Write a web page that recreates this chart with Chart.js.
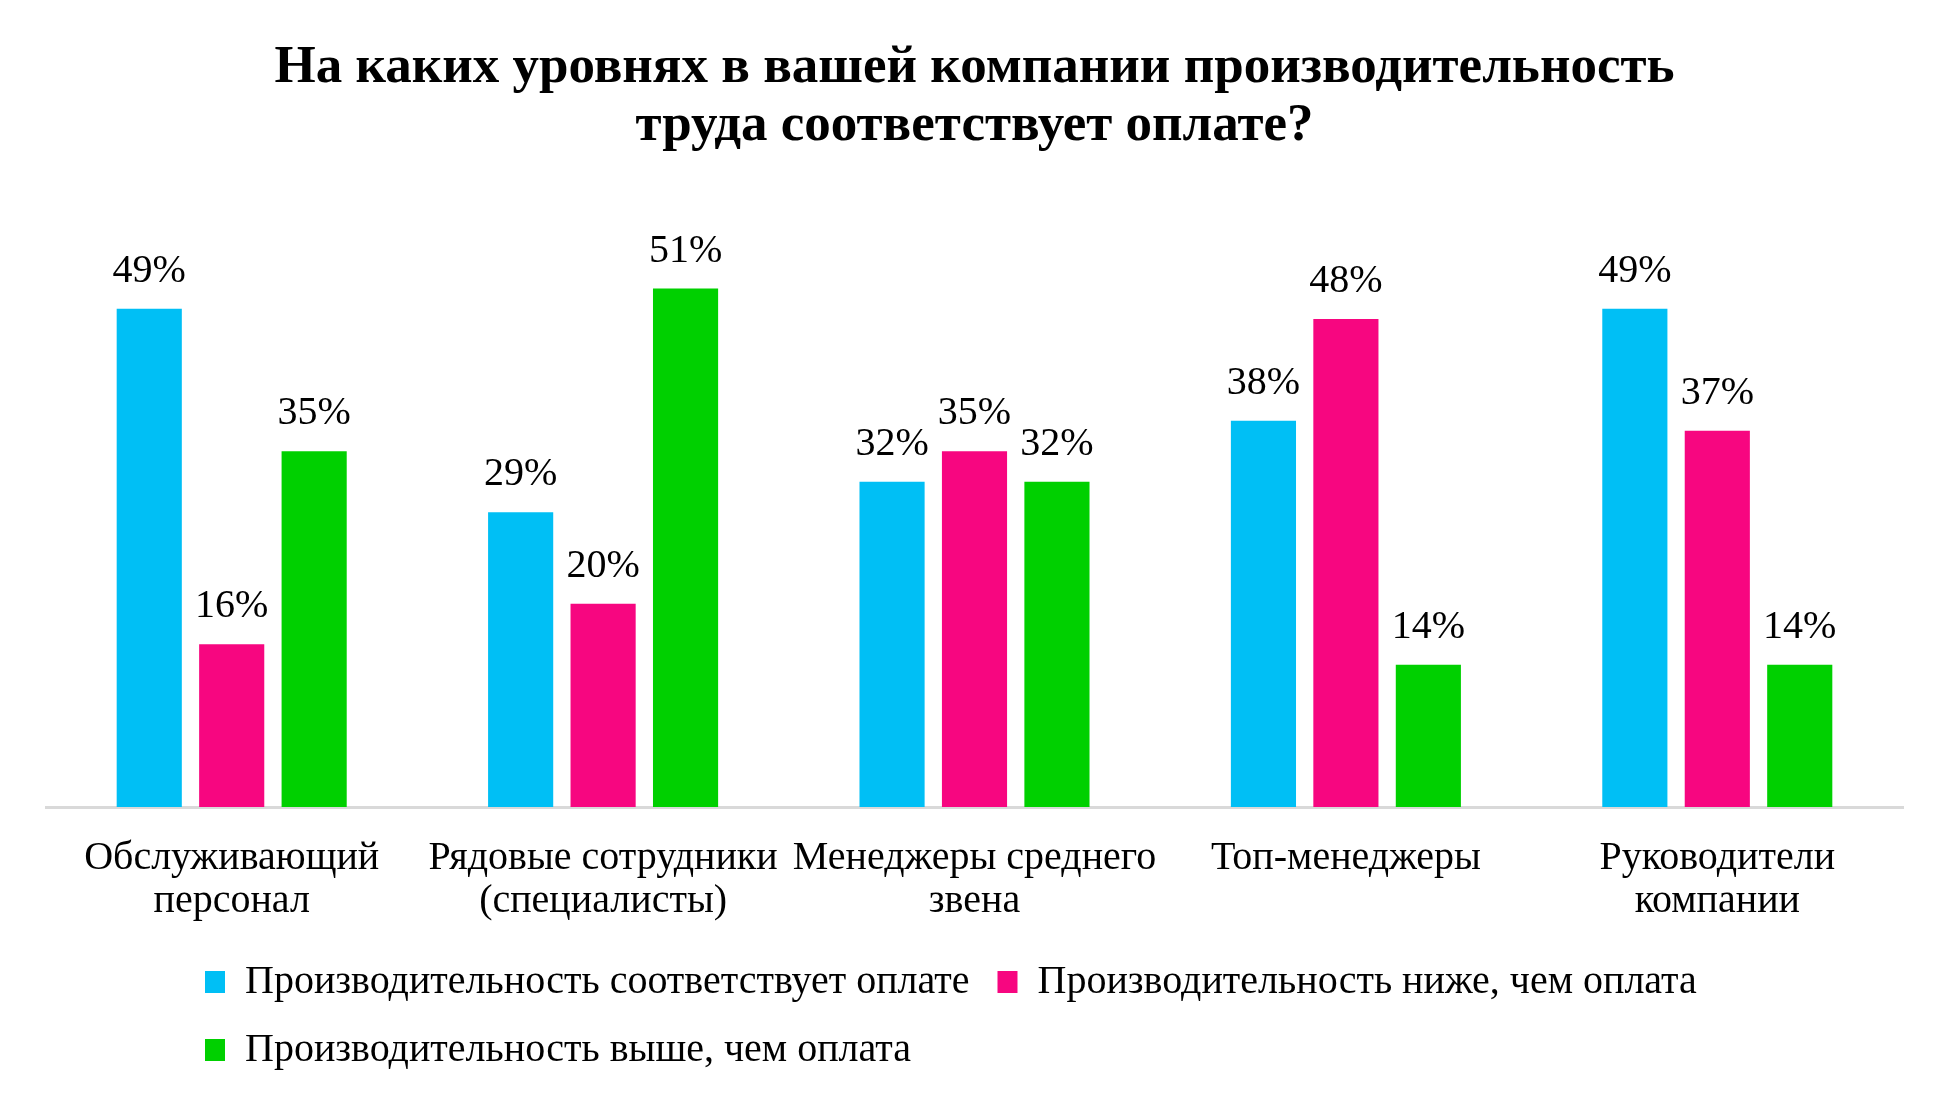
<!DOCTYPE html>
<html>
<head>
<meta charset="utf-8">
<script src="https://cdn.jsdelivr.net/npm/chart.js@4.4.0/dist/chart.umd.min.js"></script>
<style>
  html, body { margin: 0; padding: 0; background: #fff; }
</style>
</head>
<body>
<canvas id="chart" width="1950" height="1103"></canvas>
<script>
// Data
const categories = [
  ['Обслуживающий', 'персонал'],
  ['Рядовые сотрудники', '(специалисты)'],
  ['Менеджеры среднего', 'звена'],
  ['Топ-менеджеры'],
  ['Руководители', 'компании']
];
const seriesNames = [
  'Производительность соответствует оплате',
  'Производительность ниже, чем оплата',
  'Производительность выше, чем оплата'
];
const matchValues = [49, 29, 32, 38, 49];
const lowerValues = [16, 20, 35, 48, 37];
const higherValues = [35, 51, 32, 14, 14];
const seriesColors = ['#00BFF5', '#F70680', '#00D000'];

const serif = "'Liberation Serif', 'DejaVu Serif', serif";

// percent labels above every bar
const valueLabels = {
  id: 'valueLabels',
  afterDatasetsDraw(chart) {
    const ctx = chart.ctx;
    ctx.save();
    ctx.font = '40px ' + serif;
    ctx.fillStyle = '#000';
    ctx.textAlign = 'center';
    ctx.textBaseline = 'alphabetic';
    chart.data.datasets.forEach((ds, i) => {
      chart.getDatasetMeta(i).data.forEach((bar, j) => {
        ctx.fillText(ds.data[j] + '%', bar.x, bar.y - 27);
      });
    });
    ctx.restore();
  }
};

// legend rows start further right, like in the original
const legendShift = {
  id: 'legendShift',
  afterLayout(chart) {
    chart.legend.left += 131;
  }
};

new Chart(document.getElementById('chart').getContext('2d'), {
  type: 'bar',
  data: {
    labels: categories,
    datasets: [
      { label: seriesNames[0], data: matchValues, backgroundColor: seriesColors[0] },
      { label: seriesNames[1], data: lowerValues, backgroundColor: seriesColors[1] },
      { label: seriesNames[2], data: higherValues, backgroundColor: seriesColors[2] }
    ]
  },
  options: {
    responsive: false,
    animation: false,
    categoryPercentage: 0.666,
    barPercentage: 0.79,
    layout: { padding: { left: 46, right: 47, top: 0, bottom: 23 } },
    plugins: {
      title: {
        display: true,
        text: ['На каких уровнях в вашей компании производительность', 'труда соответствует оплате?'],
        color: '#000',
        font: { family: serif, size: 53, weight: 'bold', lineHeight: '58px' },
        padding: { top: 39, bottom: 42 }
      },
      legend: {
        position: 'bottom',
        align: 'start',
        labels: {
          color: '#000',
          font: { family: serif, size: 40 },
          boxWidth: 20,
          boxHeight: 22,
          padding: 28
        }
      },
      tooltip: { enabled: false }
    },
    scales: {
      x: {
        grid: { display: false, drawTicks: false },
        border: { display: true, color: '#D9D9D9', width: 3 },
        ticks: {
          color: '#000',
          padding: 30,
          font: { family: serif, size: 40, lineHeight: '43px' }
        },
        afterFit(scale) { scale.height = 127; }
      },
      y: {
        display: false,
        min: 0,
        max: 60
      }
    }
  },
  plugins: [valueLabels, legendShift]
});
</script>
</body>
</html>
